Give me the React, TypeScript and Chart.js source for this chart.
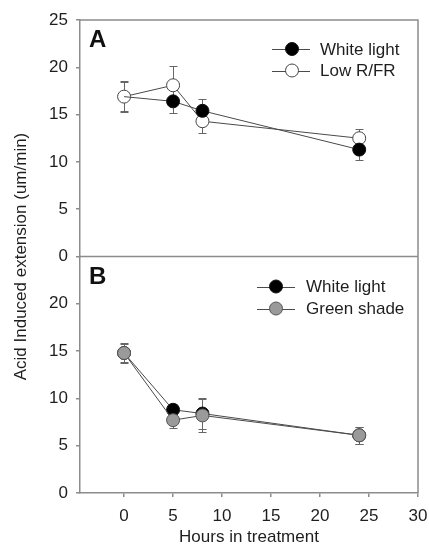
import React, { useEffect, useRef } from "react";
import { Chart, registerables } from "chart.js";

Chart.register(...registerables);

// ---- data ----
const hours = [0, 5, 8, 24];
const xTickValues = [0, 5, 10, 15, 20, 25, 30];
const yTickValuesA = [0, 5, 10, 15, 20, 25];
const yTickValuesB = [0, 5, 10, 15, 20];

const whiteA = [16.9, 16.4, 15.4, 11.3];
const whiteAErr = [1.5, 1.2, 1.2, 1.1];
const lowRFR = [16.9, 18.1, 14.3, 12.5];
const lowRFRErr = [1.6, 2.0, 1.25, 1.0];
const whiteB = [14.8, 8.8, 8.4, 6.1];
const whiteBErr = [1.0, 0.6, 1.6, 0.9];
const greenShade = [14.8, 7.7, 8.2, 6.1];
const greenShadeErr = [1.05, 0.8, 1.7, 0.9];

const legendA = ["White light", "Low R/FR"];
const legendB = ["White light", "Green shade"];
const panelLabels = ["A", "B"];
const xTitle = "Hours in treatment";
const yTitle = "Acid Induced extension (um/min)";

// ---- styles ----
const FONT = "'Liberation Sans', Arial, sans-serif";
const FS = 17;
const TEXT = "#1e1e1e";
const FRAME = "#8c8c8c";
const LINE = "#4a4a4a";
const ERR = "#666666";
const R = 6.5;

const styleBlack = { bg: "#000000", border: "#111111" };
const styleOpen = { bg: "#ffffff", border: "#444444" };
const styleGray = { bg: "#9a9a9a", border: "#555555" };

function makeDs(label: string, vals: number[], errs: number[], axis: string, st: any, order: number, radii?: number[]) {
  return {
    label,
    data: hours.map((h, i) => ({ x: h, y: vals[i] })),
    errors: errs,
    yAxisID: axis,
    xAxisID: "x",
    borderColor: LINE,
    borderWidth: 1,
    backgroundColor: st.bg,
    pointBackgroundColor: st.bg,
    pointBorderColor: st.border,
    pointBorderWidth: 1,
    pointRadius: radii || R,
    pointHoverRadius: R,
    pointStyle: "circle",
    tension: 0,
    fill: false,
    order,
    showLine: true,
  };
}

function drawLegend(ctx: CanvasRenderingContext2D, labels: string[], styles: any[], lx0: number, lx1: number, mx: number, tx: number, y0: number, dy: number) {
  labels.forEach((lab, i) => {
    const y = y0 + i * dy;
    ctx.strokeStyle = LINE;
    ctx.lineWidth = 1;
    ctx.beginPath();
    ctx.moveTo(lx0, Math.round(y) + 0.5);
    ctx.lineTo(lx1, Math.round(y) + 0.5);
    ctx.stroke();
    ctx.beginPath();
    ctx.arc(mx, y, R, 0, Math.PI * 2);
    ctx.fillStyle = styles[i].bg;
    ctx.fill();
    ctx.strokeStyle = styles[i].border;
    ctx.stroke();
    ctx.fillStyle = TEXT;
    ctx.font = `${FS}px ${FONT}`;
    ctx.textAlign = "left";
    ctx.textBaseline = "middle";
    ctx.fillText(lab, tx, y + 1);
  });
}

const overlay = {
  id: "overlay",
  beforeDatasetsDraw(chart: any) {
    const ctx = chart.ctx as CanvasRenderingContext2D;
    const xs = chart.scales.x;
    ctx.save();
    ctx.strokeStyle = ERR;
    ctx.lineWidth = 1;
    chart.data.datasets.forEach((ds: any) => {
      const ys = chart.scales[ds.yAxisID];
      ds.data.forEach((p: any, i: number) => {
        const e = ds.errors[i];
        const px = Math.round(xs.getPixelForValue(p.x)) + 0.5;
        const t = Math.round(ys.getPixelForValue(p.y + e)) + 0.5;
        const b = Math.round(ys.getPixelForValue(p.y - e)) + 0.5;
        ctx.beginPath();
        ctx.moveTo(px, t);
        ctx.lineTo(px, b);
        ctx.moveTo(px - 4, t);
        ctx.lineTo(px + 4, t);
        ctx.moveTo(px - 4, b);
        ctx.lineTo(px + 4, b);
        ctx.stroke();
      });
    });
    ctx.restore();
  },
  afterDraw(chart: any) {
    const ctx = chart.ctx as CanvasRenderingContext2D;
    const ca = chart.chartArea;
    const yA = chart.scales.yA;
    const yB = chart.scales.yB;
    ctx.save();
    // frame
    ctx.strokeStyle = FRAME;
    ctx.lineWidth = 1.5;
    ctx.beginPath();
    ctx.moveTo(ca.left, ca.top);
    ctx.lineTo(ca.right, ca.top);
    ctx.lineTo(ca.right, ca.bottom);
    ctx.moveTo(ca.left, yA.bottom);
    ctx.lineTo(ca.right, yA.bottom);
    ctx.stroke();

    // panel labels
    ctx.fillStyle = "#111111";
    ctx.font = `bold 24px ${FONT}`;
    ctx.textAlign = "left";
    ctx.textBaseline = "alphabetic";
    ctx.fillText(panelLabels[0], ca.left + 9, yA.top + 27);
    ctx.fillText(panelLabels[1], ca.left + 9, yB.top + 27);

    // legends
    const r = ca.right;
    drawLegend(ctx, legendA, [styleBlack, styleOpen], r - 146, r - 108, r - 126, r - 98, yA.top + 29, 21.5);
    drawLegend(ctx, legendB, [styleBlack, styleGray], r - 161, r - 123, r - 142, r - 112, yB.top + 30, 22);

    // axis titles
    ctx.fillStyle = TEXT;
    ctx.font = `${FS}px ${FONT}`;
    ctx.textAlign = "center";
    ctx.textBaseline = "middle";
    ctx.fillText(xTitle, (ca.left + ca.right) / 2, 537);
    ctx.translate(21, (ca.top + ca.bottom) / 2);
    ctx.rotate(-Math.PI / 2);
    ctx.fillText(yTitle, 0, 0);
    ctx.restore();
  },
};

function yScale(ticksArr: number[], weight: number) {
  return {
    type: "linear",
    position: "left",
    stack: "panels",
    stackWeight: 1,
    weight,
    min: 0,
    max: 25,
    afterBuildTicks: (s: any) => {
      s.ticks = ticksArr.map((v) => ({ value: v }));
    },
    afterFit: (s: any) => {
      s.width = 80;
      s.paddingTop = 0;
      s.paddingBottom = 0;
    },
    border: { display: true, color: FRAME, width: 1.5 },
    grid: { display: true, drawOnChartArea: false, drawTicks: true, tickLength: 4, color: FRAME, lineWidth: 1.5 },
    ticks: { color: TEXT, font: { family: FONT, size: FS }, padding: 8 },
  };
}

export default function App() {
  const ref = useRef<HTMLCanvasElement | null>(null);
  useEffect(() => {
    if (!ref.current) return;
    const chart = new Chart(ref.current, {
      type: "line",
      data: {
        datasets: [
          // shared control point at 0 h is shown by the open marker only
          makeDs(legendA[0], whiteA, whiteAErr, "yA", styleBlack, 0, [0, R, R, R]),
          makeDs(legendA[1], lowRFR, lowRFRErr, "yA", styleOpen, 1),
          makeDs(legendB[0], whiteB, whiteBErr, "yB", styleBlack, 3),
          makeDs(legendB[1], greenShade, greenShadeErr, "yB", styleGray, 2),
        ] as any,
      },
      options: {
        animation: false,
        responsive: false,
        events: [],
        layout: { padding: { top: 20, right: 11, left: 0, bottom: 0 } },
        plugins: { legend: { display: false }, tooltip: { enabled: false } },
        scales: {
          x: {
            type: "linear",
            position: "bottom",
            min: -4.5,
            max: 30,
            afterBuildTicks: (s: any) => {
              s.ticks = xTickValues.map((v) => ({ value: v }));
            },
            afterFit: (s: any) => {
              s.height = 53;
              s.paddingLeft = 0;
              s.paddingRight = 0;
            },
            border: { display: true, color: FRAME, width: 1.5 },
            grid: { display: true, drawOnChartArea: false, drawTicks: true, tickLength: 4, color: FRAME, lineWidth: 1.5 },
            ticks: { color: TEXT, font: { family: FONT, size: FS }, padding: 9, maxRotation: 0 },
          },
          yB: yScale(yTickValuesB, 1),
          yA: yScale(yTickValuesA, 2),
        } as any,
      },
      plugins: [overlay],
    });
    return () => chart.destroy();
  }, []);
  return (
    <div style={{ position: "absolute", left: 0, top: 0, width: 429, height: 546, background: "#fff" }}>
      <canvas ref={ref} width={429} height={546} style={{ display: "block" }} />
    </div>
  );
}
